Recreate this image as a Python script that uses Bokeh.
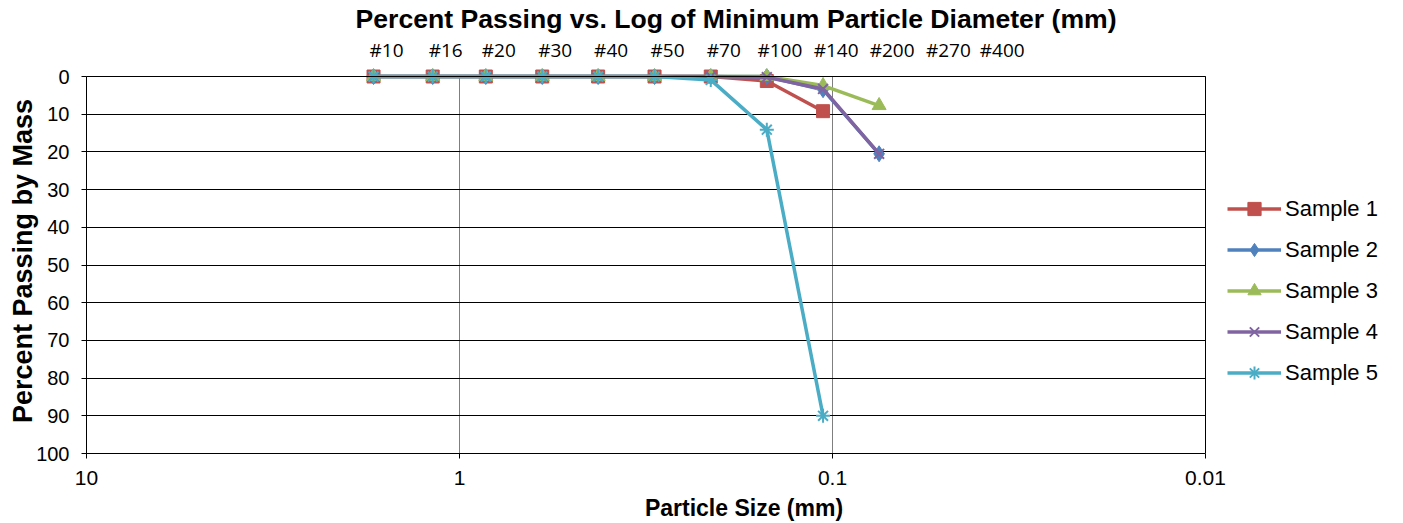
from bokeh.plotting import figure
from bokeh.models import (Range1d, FixedTicker, CustomJSTickFormatter, LogAxis, LogScale,
                          Legend, LegendItem, Title, BoxAnnotation)
from bokeh.embed import file_html
from bokeh.resources import INLINE

# ---- data ----
sieve_labels = ["#10", "#16", "#20", "#30", "#40", "#50", "#70", "#100", "#140", "#200", "#270", "#400"]
sieve_sizes = [1.7, 1.18, 0.85, 0.6, 0.425, 0.3, 0.212, 0.15, 0.106, 0.075, 0.053, 0.038]

sample1_x = [1.7, 1.18, 0.85, 0.6, 0.425, 0.3, 0.212, 0.15, 0.106]
sample1_y = [0, 0, 0, 0, 0, 0, 0, 1.2, 9.2]
sample2_x = [1.7, 1.18, 0.85, 0.6, 0.425, 0.3, 0.212, 0.15, 0.106, 0.075]
sample2_y = [0, 0, 0, 0, 0, 0, 0, 0, 3.5, 20.5]
sample3_x = [1.7, 1.18, 0.85, 0.6, 0.425, 0.3, 0.212, 0.15, 0.106, 0.075]
sample3_y = [0, 0, 0, 0, 0, 0, 0, 0, 2.4, 7.7]
sample4_x = [1.7, 1.18, 0.85, 0.6, 0.425, 0.3, 0.212, 0.15, 0.106, 0.075]
sample4_y = [0, 0, 0, 0, 0, 0, 0, 0.2, 3.3, 20.5]
sample5_x = [1.7, 1.18, 0.85, 0.6, 0.425, 0.3, 0.212, 0.15, 0.106]
sample5_y = [0, 0, 0, 0, 0, 0, 0.9, 14.1, 90.0]

y_ticks = [0, 10, 20, 30, 40, 50, 60, 70, 80, 90, 100]
x_ticks = [10, 1, 0.1, 0.01]
x_min, x_max = 0.01, 10
y_min, y_max = 0, 100

FONT = "Liberation Sans"

# layout (pixels)
W, H = 1401, 523
L, R, T, B = 86, 0, 68, 70
PX_PER_DECADE = 373.0
PX_PER_UNIT = 3.77
TOP_PAD = 8                     # room so markers at 0 are not clipped
frame_w = W - L - R
x_end = x_max / 10 ** (frame_w / PX_PER_DECADE)   # frame extends past 0.01 to host the legend
y_end = y_min - TOP_PAD / PX_PER_UNIT

p = figure(width=W, height=H, output_backend="svg", toolbar_location=None,
           x_axis_type="log", x_range=Range1d(x_max, x_end), y_range=Range1d(y_max, y_end),
           min_border_left=L, min_border_right=R, min_border_top=T, min_border_bottom=B)

bottom = p.below[0]
left = p.left[0]

# top axis with sieve numbers (slightly shifted like the reference)
k = 10 ** (13 / PX_PER_DECADE)
p.extra_x_ranges = {"top": Range1d(x_max * k, x_end * k)}
p.extra_x_scales = {"top": LogScale()}
top_axis = LogAxis(x_range_name="top")
top_axis.ticker = FixedTicker(ticks=sieve_sizes)
top_axis.formatter = CustomJSTickFormatter(args=dict(sizes=sieve_sizes, labels=sieve_labels), code="""
    for (let i = 0; i < sizes.length; i++) {
        if (Math.abs(Math.log10(sizes[i]) - Math.log10(tick)) < 1e-6) return labels[i];
    }
    return "";
""")
top_axis.axis_line_alpha = 0
top_axis.major_tick_line_alpha = 0
top_axis.minor_tick_line_alpha = 0
top_axis.major_tick_out = 0
top_axis.major_tick_in = 0
top_axis.major_label_text_font = "Open Sans"
top_axis.major_label_text_font_size = "19px"
top_axis.major_label_text_color = "black"
top_axis.major_label_standoff = 6
p.add_layout(top_axis, "above")

p.title = Title(text="Percent Passing vs. Log of Minimum Particle Diameter (mm)",
                align="left", offset=269, text_font=FONT, text_font_size="26.6px",
                text_font_style="bold", text_color="black", standoff=0)

# axes
bottom.ticker = FixedTicker(ticks=x_ticks)
bottom.formatter = CustomJSTickFormatter(code="return tick.toString();")
bottom.bounds = (x_min, x_max)
bottom.minor_tick_line_alpha = 0
bottom.major_tick_out = 5
bottom.major_tick_in = 0
bottom.major_label_standoff = 12
bottom.axis_label = "Particle Size (mm)"
bottom.axis_label_standoff = 7
left.axis_label = "Percent Passing by Mass"
left.bounds = (y_min, y_max)

for ax in [bottom, left]:
    ax.major_label_text_font = FONT
    ax.major_label_text_color = "black"
    ax.axis_label_text_font = FONT
    ax.axis_label_text_font_style = "bold"
    ax.axis_label_text_color = "black"
    ax.axis_line_color = "black"
    ax.major_tick_line_color = "black"

bottom.major_label_text_font_size = "21px"
left.major_label_text_font_size = "20px"
bottom.axis_label_text_font_size = "23px"
left.axis_label_text_font_size = "27px"
left.ticker = FixedTicker(ticks=y_ticks)
left.minor_tick_line_alpha = 0
left.major_tick_out = 5
left.major_tick_in = 0
left.major_label_standoff = 12
left.axis_label_standoff = -5

p.ygrid.grid_line_color = "black"
p.ygrid.ticker = FixedTicker(ticks=y_ticks)
p.xgrid.grid_line_alpha = 0
p.outline_line_alpha = 0

# vertical grid lines (only inside the plot box)
p.segment(x0=x_ticks, x1=x_ticks, y0=[y_min] * len(x_ticks), y1=[y_max] * len(x_ticks),
          line_color="#7f7f7f", line_width=1, level="underlay")

# series
items = []
series = [
    ("Sample 1", sample1_x, sample1_y, "#C0504D", "square", 13),
    ("Sample 2", sample2_x, sample2_y, "#4F81BD", "diamond", 16),
    ("Sample 3", sample3_x, sample3_y, "#9BBB59", "triangle", 14),
    ("Sample 4", sample4_x, sample4_y, "#8064A2", "x", 14),
    ("Sample 5", sample5_x, sample5_y, "#4BACC6", "asterisk", 14),
]
for name, xs, ys, col, mk, sz in series:
    ln = p.line(xs, ys, line_color=col, line_width=3.5)
    if mk in ("x", "asterisk"):
        sc = p.scatter(xs, ys, marker=mk, size=sz, line_color=col, line_width=2)
    else:
        sc = p.scatter(xs, ys, marker=mk, size=sz, fill_color=col, line_color=col)
    items.append(LegendItem(label=name, renderers=[ln, sc]))

# blank the area right of the plot box, then draw the plot box outline
p.add_layout(BoxAnnotation(left=x_min, fill_color="white", fill_alpha=1, line_alpha=0))
p.add_layout(BoxAnnotation(left=x_max, right=x_min, top=y_min, bottom=y_max, fill_alpha=0,
                           line_color="black", line_width=1, line_alpha=1))

legend = Legend(items=items, location=(1227 - L, 64))
legend.padding = 0
legend.margin = 0
legend.spacing = 8
legend.glyph_height = 33
legend.glyph_width = 54
legend.label_height = 33
legend.label_standoff = 4
legend.label_text_font = FONT
legend.label_text_font_size = "22px"
legend.label_text_color = "black"
legend.border_line_alpha = 0
legend.background_fill_alpha = 0
p.add_layout(legend, "center")

open("out.html", "w").write(file_html(p, INLINE))
